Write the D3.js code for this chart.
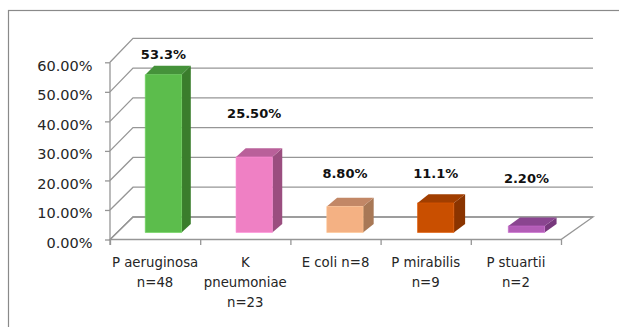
<!DOCTYPE html>
<html>
<head>
<meta charset="utf-8">
<script src="https://cdn.jsdelivr.net/npm/d3@7"></script>
<style>
  body { margin: 0; background: #fff; }
  svg { display: block; font-family: "DejaVu Sans", sans-serif; }
</style>
</head>
<body>
<svg id="chart" width="619" height="327"></svg>
<script>
// chart data
const categories = [
  ['P aeruginosa', 'n=48'],
  ['K', 'pneumoniae', 'n=23'],
  ['E coli n=8'],
  ['P mirabilis', 'n=9'],
  ['P stuartii', 'n=2']
];
const values = [53.3, 25.5, 8.8, 10.0, 2.2];
const valueLabels = ['53.3%', '25.50%', '8.80%', '11.1%', '2.20%'];
// height (in %) at which each data label sits in the picture
const labelLevels = [58.5, 38.6, 18.3, 18.4, 16.6];
const yTicks = [0, 10, 20, 30, 40, 50, 60];

const faceColors = ['#5cbd4c', '#ef80c4', '#f4b183', '#c94f00', '#b35db7'];
const sideColors = ['#3a7d2c', '#9a4e7f', '#a87856', '#8a3400', '#77387c'];
const topColors  = ['#45923a', '#b9609a', '#c28766', '#a13e00', '#8a4590'];

const svg = d3.select('#chart');
const n = categories.length;

// front plane and back wall scales, a point is (category pos, value, depth 0..1)
const xFront = d3.scaleLinear().domain([0, n]).range([110, 561]);
const xBack = d3.scaleLinear().domain([0, n]).range([133, 593]);
const yFront = d3.scaleLinear().domain([0, 60]).range([239.5, 62.3]);
const yBack = d3.scaleLinear().domain([0, 60]).range([217, 38.3]);

function proj(u, v, z)
{
  return [xFront(u) * (1 - z) + xBack(u) * z, yFront(v) * (1 - z) + yBack(v) * z];
}
const poly = pts => 'M' + pts.map(p => p.join(',')).join('L') + 'Z';

// outer border
svg.append('rect')
    .attr('x', 8.5).attr('y', 10.5)
    .attr('width', 630).attr('height', 340)
    .attr('fill', 'none').attr('stroke', '#8a8a8a').attr('stroke-width', 1.2);

const grid = svg.append('g')
    .attr('fill', 'none').attr('stroke', '#969696').attr('stroke-width', 1.3);

// back wall gridlines and left wall diagonals
yTicks.forEach(t => {
  const a = proj(0, t, 0), b = proj(0, t, 1), c = proj(n, t, 1);
  grid.append('path').attr('d', 'M' + a + 'L' + b + 'L' + c);
});

// floor outline
grid.append('path')
    .attr('d', poly([proj(0, 0, 0), proj(n, 0, 0), proj(n, 0, 1), proj(0, 0, 1)]));

// y axis with labels
const yAxis = svg.append('g')
    .attr('transform', 'translate(' + xFront(0) + ',0)')
    .call(d3.axisLeft(yFront).tickValues(yTicks).tickSize(5).tickSizeOuter(0)
      .tickFormat(d => d3.format('.2f')(d) + '%'));
yAxis.select('.domain').attr('stroke', '#969696').attr('stroke-width', 1.3)
    .attr('d', 'M0,' + yFront(60) + 'V' + (yFront(0) + 5.5));
yAxis.selectAll('.tick line').attr('stroke', '#969696').attr('stroke-width', 1.3);
yAxis.selectAll('.tick text')
    .attr('x', -17.5).attr('dy', '0.55em')
    .attr('font-size', 14.5).attr('font-family', '"DejaVu Sans", sans-serif')
    .attr('fill', '#262626');

// category ticks along the front floor edge
const xAxis = svg.append('g')
    .attr('transform', 'translate(0,' + yFront(0) + ')')
    .call(d3.axisBottom(xFront).tickValues(d3.range(n + 1)).tickSize(5.5).tickFormat(''));
xAxis.select('.domain').remove();
xAxis.selectAll('.tick line').attr('stroke', '#969696').attr('stroke-width', 1.3);

// bars
const u0 = 0.31, u1 = 0.71, z0 = 0.31, z1 = 0.69;
const bars = svg.append('g').selectAll('g').data(values).join('g');
bars.append('path')
    .attr('fill', (d, i) => sideColors[i])
    .attr('d', (d, i) => poly([proj(i + u1, 0, z0), proj(i + u1, 0, z1), proj(i + u1, d, z1), proj(i + u1, d, z0)]));
bars.append('path')
    .attr('fill', (d, i) => topColors[i])
    .attr('d', (d, i) => poly([proj(i + u0, d, z0), proj(i + u1, d, z0), proj(i + u1, d, z1), proj(i + u0, d, z1)]));
bars.append('path')
    .attr('fill', (d, i) => faceColors[i])
    .attr('stroke', (d, i) => d3.color(faceColors[i]).brighter(0.3))
    .attr('stroke-width', 0.6)
    .attr('d', (d, i) => poly([proj(i + u0, 0, z0), proj(i + u1, 0, z0), proj(i + u1, d, z0), proj(i + u0, d, z0)]));

// data labels
svg.append('g').selectAll('text').data(valueLabels).join('text')
    .attr('x', (d, i) => proj(i + (u0 + u1) / 2, labelLevels[i], z0)[0])
    .attr('y', (d, i) => proj(i + (u0 + u1) / 2, labelLevels[i], z0)[1])
    .attr('text-anchor', 'middle')
    .attr('font-size', 13).attr('font-weight', 'bold')
    .attr('fill', '#111')
    .text(d => d);

// category labels
const cat = svg.append('g').selectAll('text').data(categories).join('text')
    .attr('x', (d, i) => xFront(i + 0.5))
    .attr('y', 266.7)
    .attr('text-anchor', 'middle')
    .attr('font-size', 13.3).attr('fill', '#262626');
cat.selectAll('tspan').data(d => d).join('tspan')
    .attr('x', function() { return this.parentNode.getAttribute('x'); })
    .attr('dy', (d, j) => j === 0 ? 0 : 20)
    .text(d => d);
</script>
</body>
</html>
